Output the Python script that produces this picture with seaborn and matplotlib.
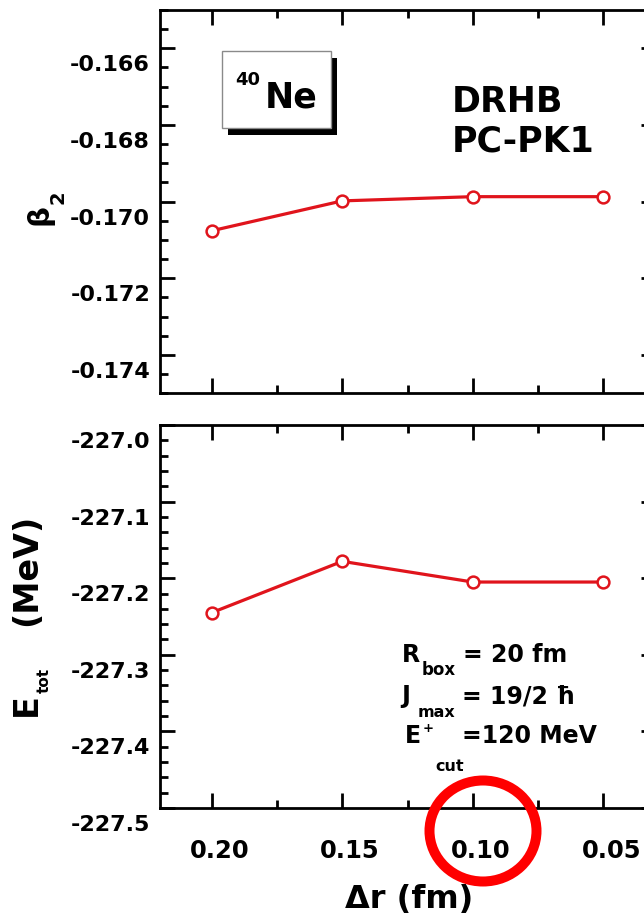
import numpy as np
import pandas as pd
import matplotlib
matplotlib.use("Agg")
import matplotlib.pyplot as plt
import seaborn as sns
from matplotlib.patches import Rectangle, Ellipse
from matplotlib.ticker import FixedLocator, FormatStrFormatter
from matplotlib.transforms import ScaledTranslation

# ---- data -------------------------------------------------------------
dr = [0.20, 0.15, 0.10, 0.05]                       # mesh size (fm)
beta2 = [-0.17076, -0.16998, -0.16987, -0.16987]    # quadrupole deformation
etot = [-227.245, -227.178, -227.205, -227.205]     # total energy (MeV)

x_major = [0.20, 0.15, 0.10, 0.05]
x_minor = [0.175, 0.125, 0.075]
beta_major = [-0.174, -0.172, -0.170, -0.168, -0.166]
etot_major = [-227.5, -227.4, -227.3, -227.2, -227.1, -227.0]

# ---- style ------------------------------------------------------------
sns.set_style("white")
plt.rcParams.update({
    "font.family": ["DejaVu Sans"],
    "font.weight": "bold",
    "text.color": "black",
    "axes.labelcolor": "black",
    "xtick.color": "black",
    "ytick.color": "black",
    "axes.edgecolor": "black",
    "axes.unicode_minus": False,
})

W, H = 644, 919
fig = plt.figure(figsize=(W / 100, H / 100), dpi=100)
fig.patch.set_facecolor("white")


def fx(px):
    return px / W


def fy(py):
    return 1 - py / H


def label(x, y, s, size, **kw):
    kw.setdefault("ha", "left")
    kw.setdefault("va", "baseline")
    return fig.text(fx(x), fy(y), s, fontsize=size, fontweight="bold",
                    color="black", **kw)


df = pd.DataFrame({"dr": dr, "beta2": beta2, "etot": etot})

ax_top = fig.add_axes([fx(159.5), fy(393.3), 496 / W, 383.3 / H])
ax_bot = fig.add_axes([fx(159.5), fy(808), 496 / W, 383 / H])

red = "#e0141c"
line_kw = dict(color=red, linewidth=2.3, marker="o", markersize=8.5,
               markerfacecolor="white", markeredgecolor=red,
               markeredgewidth=1.8)
sns.lineplot(data=df, x="dr", y="beta2", ax=ax_top, **line_kw)
sns.lineplot(data=df, x="dr", y="etot", ax=ax_bot, **line_kw)

label_down = ScaledTranslation(0, -0.15, fig.dpi_scale_trans)
label_right = ScaledTranslation(0.08, 0, fig.dpi_scale_trans)

for ax in (ax_top, ax_bot):
    ax.set_xlim(0.22, 0.03)
    ax.xaxis.set_major_locator(FixedLocator(x_major))
    ax.xaxis.set_minor_locator(FixedLocator(x_minor))
    ax.xaxis.set_major_formatter(FormatStrFormatter("%.2f"))
    ax.tick_params(which="both", direction="in", top=True, right=True,
                   bottom=True, left=True, width=2, color="black",
                   labelcolor="black")
    ax.tick_params(which="major", length=11)
    ax.tick_params(which="minor", length=5.8)
    ax.tick_params(axis="y", which="major", labelsize=16, pad=6.8)
    ax.tick_params(axis="x", which="major", labelsize=17.5, pad=22)
    for sp in ax.spines.values():
        sp.set_linewidth(2)
        sp.set_color("black")
    ax.set_xlabel("")
    ax.set_ylabel("")
    ax.set_facecolor("white")

ax_top.set_ylim(-0.175, -0.165)
ax_top.yaxis.set_major_locator(FixedLocator(beta_major))
ax_top.yaxis.set_minor_locator(FixedLocator(np.linspace(-0.175, -0.165, 21)))
ax_top.yaxis.set_major_formatter(FormatStrFormatter("%.3f"))
ax_top.tick_params(axis="x", labelbottom=False)

ax_bot.set_ylim(-227.5, -227.0)
ax_bot.yaxis.set_major_locator(FixedLocator(etot_major))
ax_bot.yaxis.set_minor_locator(FixedLocator(np.linspace(-227.5, -227.0, 26)))
ax_bot.yaxis.set_major_formatter(FormatStrFormatter("%.1f"))

for ax in (ax_top, ax_bot):
    for t in ax.yaxis.get_major_ticks():
        t.label1.set_transform(t.label1.get_transform() + label_down)
        t.label1.set_fontweight("bold")
    for t in ax.xaxis.get_major_ticks():
        t.label1.set_transform(t.label1.get_transform() + label_right)
        t.label1.set_fontweight("bold")

# ---- nucleus box with drop shadow ------------------------------------
fig.add_artist(Rectangle((fx(228), fy(135)), 109 / W, 77 / H,
                         transform=fig.transFigure, facecolor="black",
                         edgecolor="none", zorder=5))
fig.add_artist(Rectangle((fx(221.7), fy(128)), 109 / W, 77 / H,
                         transform=fig.transFigure, facecolor="white",
                         edgecolor="#8a8a8a", linewidth=1.0, zorder=6))
label(235, 85, "40", 13, zorder=7)
label(265, 107, "Ne", 25, zorder=7)

label(452, 112, "DRHB", 25)
label(452, 152, "PC-PK1", 25)

# ---- calculation parameters ------------------------------------------
label(401.7, 662, "R", 17)
label(421.7, 675, "box", 12)
label(463, 662, "= 20 fm", 17)

label(401.7, 703, "J", 17)
label(418, 717, "max", 11.5)
label(461.7, 703, "= 19/2 ħ", 17)

label(405, 743, "E", 17)
label(422.5, 732, "+", 9.5)
label(435, 771, "cut", 11.5)
label(461.7, 743, "=120 MeV", 17)

# ---- axis titles -------------------------------------------------------
label(39, 214.5, "β", 21, rotation=90, ha="center", va="center")
label(58, 197, "2", 14, rotation=90, ha="center", va="center")

label(26, 705, "E", 24, rotation=90, ha="center", va="center")
label(44, 680, "tot", 11, rotation=90, ha="center", va="center")
label(27, 570, "(MeV)", 24, rotation=90, ha="center", va="center")

label(409, 908, "Δr (fm)", 23, ha="center")

# ---- highlight ring around the 0.10 fm tick label ---------------------
fig.add_artist(Ellipse((fx(483), fy(831)), 107 / W, 101 / H,
                       transform=fig.transFigure, facecolor="none",
                       edgecolor="red", linewidth=7.2, zorder=10))

fig.savefig("out.png", dpi=100, facecolor="white")
